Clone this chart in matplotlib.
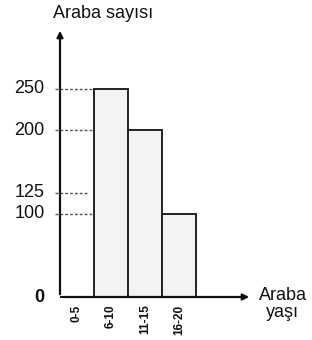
import matplotlib.pyplot as plt

# data
age_groups = ["0-5", "6-10", "11-15", "16-20"]
car_counts = [0, 250, 200, 100]
ytick_values = [0, 100, 125, 200, 250]

fig = plt.figure(figsize=(3.12, 3.40), dpi=100)
ax = fig.add_axes([60 / 312, 43 / 340, 192 / 312, 269 / 340])
ax.set_xlim(0, 5.65)
ax.set_ylim(0, 323)
ax.axis("off")

xs = [i + 0.5 for i in range(len(age_groups))]
ax.bar(xs, car_counts, width=1.0, color="#f3f3f1", edgecolor="#222222",
       linewidth=1.4, clip_on=False, zorder=3)

# axes with arrows
ax.annotate("", xy=(0, 323), xytext=(0, 0),
            arrowprops=dict(arrowstyle="-|>", color="#111111", lw=1.6, mutation_scale=9),
            annotation_clip=False, zorder=4)
ax.annotate("", xy=(5.65, 0), xytext=(0, 0),
            arrowprops=dict(arrowstyle="-|>", color="#111111", lw=1.6, mutation_scale=9),
            annotation_clip=False, zorder=4)

# dotted guide lines from y axis to the first bar
for v in ytick_values[1:]:
    x_end = 0.82 if v == 125 else 1.0
    ax.plot([-0.15, x_end], [v, v], ls=(0, (2, 1.5)), color="#555555", lw=1.0,
            clip_on=False, zorder=2)
    ax.text(-0.45, v, str(v), ha="right", va="center", fontsize=13,
            fontfamily="Liberation Sans", color="#111111")

ax.text(-0.45, 0, "0", ha="right", va="center", fontsize=13, fontweight="bold",
        fontfamily="Liberation Sans", color="#111111")

for x, lab in zip(xs, age_groups):
    ax.text(x, -9, lab, rotation=90, ha="center", va="top", fontsize=8.5,
            fontweight="bold", fontfamily="Liberation Sans", color="#111111")

ax.text(-0.2, 330, "Araba sayısı", ha="left", va="bottom", fontsize=13,
        fontfamily="Liberation Sans", color="#111111")
ax.text(6.55, -8, "Araba\nyaşı", ha="center", va="center", fontsize=13,
        fontfamily="Liberation Sans", color="#111111", linespacing=1.0)

fig.savefig("out.png", dpi=100, facecolor="white")
